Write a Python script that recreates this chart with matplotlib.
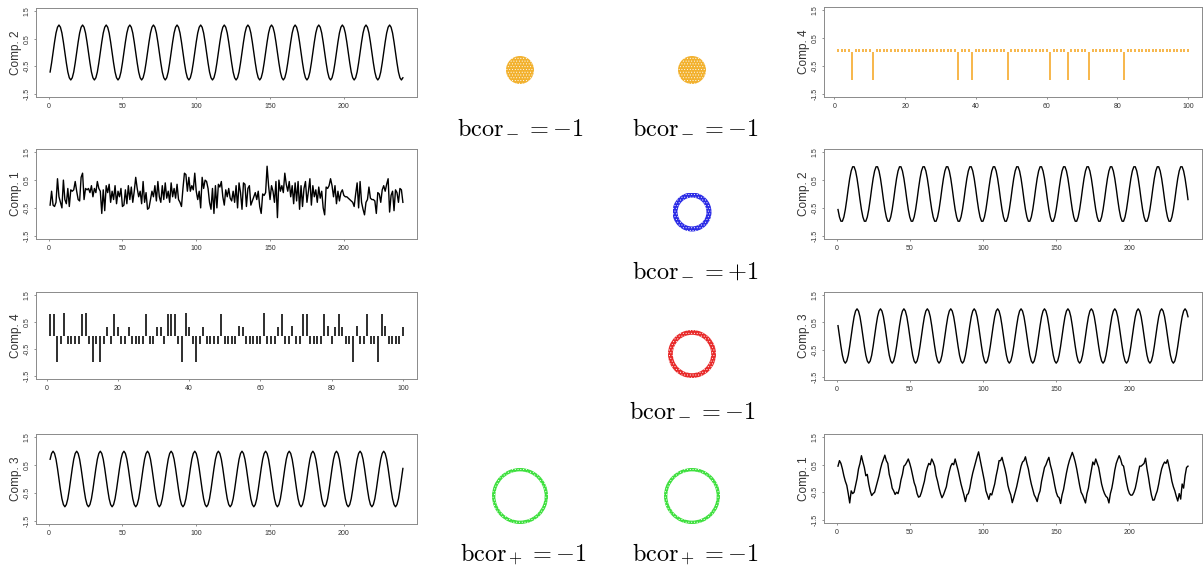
import numpy as np
import matplotlib
matplotlib.use('Agg')
import matplotlib.pyplot as plt
from matplotlib.patches import Circle, Wedge

plt.rcParams['font.family'] = ['Liberation Sans', 'DejaVu Sans']
plt.rcParams['mathtext.fontset'] = 'cm'
plt.rcParams['hatch.linewidth'] = 0.35

# ---- data ----
left_comp2 = [
    -.71, -.38, 0, .38, .71, .92, 1, .92, .71, .38, 0, -.38, -.71, -.92, -1, -.92,
    -.71, -.38, 0, .38, .71, .92, 1, .92, .71, .38, 0, -.38, -.71, -.92, -1, -.92,
    -.71, -.38, 0, .38, .71, .92, 1, .92, .71, .38, 0, -.38, -.71, -.92, -1, -.92,
    -.71, -.38, 0, .38, .71, .92, 1, .92, .71, .38, 0, -.38, -.71, -.92, -1, -.92,
    -.71, -.38, 0, .38, .71, .92, 1, .92, .71, .38, 0, -.38, -.71, -.92, -1, -.92,
    -.71, -.38, 0, .38, .71, .92, 1, .92, .71, .38, 0, -.38, -.71, -.92, -1, -.92,
    -.71, -.38, 0, .38, .71, .92, 1, .92, .71, .38, 0, -.38, -.71, -.92, -1, -.92,
    -.71, -.38, 0, .38, .71, .92, 1, .92, .71, .38, 0, -.38, -.71, -.92, -1, -.92,
    -.71, -.38, 0, .38, .71, .92, 1, .92, .71, .38, 0, -.38, -.71, -.92, -1, -.92,
    -.71, -.38, 0, .38, .71, .92, 1, .92, .71, .38, 0, -.38, -.71, -.92, -1, -.92,
    -.71, -.38, 0, .38, .71, .92, 1, .92, .71, .38, 0, -.38, -.71, -.92, -1, -.92,
    -.71, -.38, 0, .38, .71, .92, 1, .92, .71, .38, 0, -.38, -.71, -.92, -1, -.92,
    -.71, -.38, 0, .38, .71, .92, 1, .92, .71, .38, 0, -.38, -.71, -.92, -1, -.92,
    -.71, -.38, 0, .38, .71, .92, 1, .92, .71, .38, 0, -.38, -.71, -.92, -1, -.92,
    -.71, -.38, 0, .38, .71, .92, 1, .92, .71, .38, 0, -.38, -.71, -.92, -1, -.92,
]

left_comp1 = [
    -.4, .1, -.4, -.45, -.3, .55, -.1, -.3, -.5, .5, -.2, -.35, .2, -.45, .15, .1, .15, .45, .1, -.2,
    -.25, .6, .75, -.2, .2, .15, .2, .05, .3, -.1, .2, .05, .45, .2, .1, -.7, .15, -.6, .3, .05,
    .35, -.3, .1, -.2, .3, -.35, .1, -.1, .2, -.45, -.4, .15, -.35, .3, -.2, .25, -.3, .1, .6, .2,
    -.1, .1, -.35, .45, -.3, .05, -.55, -.5, -.2, .1, -.1, .3, -.25, .45, -.1, -.3, .3, -.2, .4, -.15,
    .1, -.3, .4, -.1, .2, -.15, .35, -.2, -.3, -.45, .2, .75, .7, .1, .6, .1, .3, .15, .75, .1,
    -.2, .1, -.5, .6, .2, .5, .45, .2, -.3, -.55, .2, -.7, .3, -.5, .35, .25, .45, -.1, -.4, .15,
    -.1, .2, -.15, -.25, .1, -.3, .3, -.5, .4, .05, -.55, .4, .35, -.45, .2, .3, -.4, -.25, -.1, .05,
    -.2, .1, -.45, -.7, 0, -.05, .05, 1.0, .3, -.2, .3, .1, -.3, .45, -.85, .5, .1, .3, .05, .75,
    .35, .1, .45, -.1, .3, -.35, .4, -.25, .45, -.55, .3, -.45, .2, .45, -.3, .1, .55, -.4, .3, -.1,
    .15, -.3, .25, -.15, .1, -.5, -.75, .25, .2, .3, .55, .3, -.1, .3, -.35, .1, -.25, .05, .15, -.05,
    -.1, -.1, -.15, -.2, -.25, -.3, -.45, 0, .4, -.5, .45, -.3, -.55, -.75, -.3, -.2, .25, -.15, -.2, -.2,
    -.25, -.7, .05, 0, -.3, .15, .3, .1, .35, .55, -.65, -.05, .1, -.6, .15, .05, -.3, .2, .15, -.3,
]

left_comp4 = [
    .8, .8, -1, -.3, .85, -.3, -.3, -.3, -.3, .8,
    .85, -.3, -1, -.3, -1, -.3, .3, -.3, .8, .3,
    -.3, -.3, .3, -.3, -.3, -.3, -.3, .8, -.3, -.3,
    .3, .3, -.3, .8, .8, .8, -.3, -1, .85, .3,
    -.3, -1, -.3, .3, -.3, -.3, -.3, -.3, .8, -.3,
    -.3, -.3, -.3, .35, .3, -.3, -.3, -.3, -.3, -.3,
    .85, -.3, -.3, -.3, .3, .8, -.3, -.3, .35, -.3,
    -.3, .8, .8, -.3, -.3, -.3, -.3, .8, .35, -.3,
    .3, .8, .3, -.3, -.3, -1, .35, -.3, -.3, .8,
    -.3, -.3, -1, .8, .35, -.3, -.3, -.3, -.3, .3,
]

left_comp3 = [
    .71, .92, 1, .92, .71, .38, 0, -.38, -.71, -.92, -1, -.92, -.71, -.38, 0, .38,
    .71, .92, 1, .92, .71, .38, 0, -.38, -.71, -.92, -1, -.92, -.71, -.38, 0, .38,
    .71, .92, 1, .92, .71, .38, 0, -.38, -.71, -.92, -1, -.92, -.71, -.38, 0, .38,
    .71, .92, 1, .92, .71, .38, 0, -.38, -.71, -.92, -1, -.92, -.71, -.38, 0, .38,
    .71, .92, 1, .92, .71, .38, 0, -.38, -.71, -.92, -1, -.92, -.71, -.38, 0, .38,
    .71, .92, 1, .92, .71, .38, 0, -.38, -.71, -.92, -1, -.92, -.71, -.38, 0, .38,
    .71, .92, 1, .92, .71, .38, 0, -.38, -.71, -.92, -1, -.92, -.71, -.38, 0, .38,
    .71, .92, 1, .92, .71, .38, 0, -.38, -.71, -.92, -1, -.92, -.71, -.38, 0, .38,
    .71, .92, 1, .92, .71, .38, 0, -.38, -.71, -.92, -1, -.92, -.71, -.38, 0, .38,
    .71, .92, 1, .92, .71, .38, 0, -.38, -.71, -.92, -1, -.92, -.71, -.38, 0, .38,
    .71, .92, 1, .92, .71, .38, 0, -.38, -.71, -.92, -1, -.92, -.71, -.38, 0, .38,
    .71, .92, 1, .92, .71, .38, 0, -.38, -.71, -.92, -1, -.92, -.71, -.38, 0, .38,
    .71, .92, 1, .92, .71, .38, 0, -.38, -.71, -.92, -1, -.92, -.71, -.38, 0, .38,
    .71, .92, 1, .92, .71, .38, 0, -.38, -.71, -.92, -1, -.92, -.71, -.38, 0, .38,
    .71, .92, 1, .92, .71, .38, 0, -.38, -.71, -.92, -1, -.92, -.71, -.38, 0, .38,
]

right_comp4 = [
    .1, .1, .1, .1, -1, .1, .1, .1, .1, .1,
    -1, .1, .1, .1, .1, .1, .1, .1, .1, .1,
    .1, .1, .1, .1, .1, .1, .1, .1, .1, .1,
    .1, .1, .1, .1, -1, .1, .1, .1, -1, .1,
    .1, .1, .1, .1, .1, .1, .1, .1, -1, .1,
    .1, .1, .1, .1, .1, .1, .1, .1, .1, .1,
    -1, .1, .1, .1, .1, -1, .1, .1, .1, .1,
    .1, -1, .1, .1, .1, .1, .1, .1, .1, .1,
    .1, -1, .1, .1, .1, .1, .1, .1, .1, .1,
    .1, .1, .1, .1, .1, .1, .1, .1, .1, .1,
]

right_comp2 = [
    -.56, -.83, -.98, -.98, -.83, -.56, -.2, .2, .56, .83, .98, .98, .83, .56, .2, -.2,
    -.56, -.83, -.98, -.98, -.83, -.56, -.2, .2, .56, .83, .98, .98, .83, .56, .2, -.2,
    -.56, -.83, -.98, -.98, -.83, -.56, -.2, .2, .56, .83, .98, .98, .83, .56, .2, -.2,
    -.56, -.83, -.98, -.98, -.83, -.56, -.2, .2, .56, .83, .98, .98, .83, .56, .2, -.2,
    -.56, -.83, -.98, -.98, -.83, -.56, -.2, .2, .56, .83, .98, .98, .83, .56, .2, -.2,
    -.56, -.83, -.98, -.98, -.83, -.56, -.2, .2, .56, .83, .98, .98, .83, .56, .2, -.2,
    -.56, -.83, -.98, -.98, -.83, -.56, -.2, .2, .56, .83, .98, .98, .83, .56, .2, -.2,
    -.56, -.83, -.98, -.98, -.83, -.56, -.2, .2, .56, .83, .98, .98, .83, .56, .2, -.2,
    -.56, -.83, -.98, -.98, -.83, -.56, -.2, .2, .56, .83, .98, .98, .83, .56, .2, -.2,
    -.56, -.83, -.98, -.98, -.83, -.56, -.2, .2, .56, .83, .98, .98, .83, .56, .2, -.2,
    -.56, -.83, -.98, -.98, -.83, -.56, -.2, .2, .56, .83, .98, .98, .83, .56, .2, -.2,
    -.56, -.83, -.98, -.98, -.83, -.56, -.2, .2, .56, .83, .98, .98, .83, .56, .2, -.2,
    -.56, -.83, -.98, -.98, -.83, -.56, -.2, .2, .56, .83, .98, .98, .83, .56, .2, -.2,
    -.56, -.83, -.98, -.98, -.83, -.56, -.2, .2, .56, .83, .98, .98, .83, .56, .2, -.2,
    -.56, -.83, -.98, -.98, -.83, -.56, -.2, .2, .56, .83, .98, .98, .83, .56, .2, -.2,
]

right_comp3 = [
    .38, 0, -.38, -.71, -.92, -1, -.92, -.71, -.38, 0, .38, .71, .92, 1, .92, .71,
    .38, 0, -.38, -.71, -.92, -1, -.92, -.71, -.38, 0, .38, .71, .92, 1, .92, .71,
    .38, 0, -.38, -.71, -.92, -1, -.92, -.71, -.38, 0, .38, .71, .92, 1, .92, .71,
    .38, 0, -.38, -.71, -.92, -1, -.92, -.71, -.38, 0, .38, .71, .92, 1, .92, .71,
    .38, 0, -.38, -.71, -.92, -1, -.92, -.71, -.38, 0, .38, .71, .92, 1, .92, .71,
    .38, 0, -.38, -.71, -.92, -1, -.92, -.71, -.38, 0, .38, .71, .92, 1, .92, .71,
    .38, 0, -.38, -.71, -.92, -1, -.92, -.71, -.38, 0, .38, .71, .92, 1, .92, .71,
    .38, 0, -.38, -.71, -.92, -1, -.92, -.71, -.38, 0, .38, .71, .92, 1, .92, .71,
    .38, 0, -.38, -.71, -.92, -1, -.92, -.71, -.38, 0, .38, .71, .92, 1, .92, .71,
    .38, 0, -.38, -.71, -.92, -1, -.92, -.71, -.38, 0, .38, .71, .92, 1, .92, .71,
    .38, 0, -.38, -.71, -.92, -1, -.92, -.71, -.38, 0, .38, .71, .92, 1, .92, .71,
    .38, 0, -.38, -.71, -.92, -1, -.92, -.71, -.38, 0, .38, .71, .92, 1, .92, .71,
    .38, 0, -.38, -.71, -.92, -1, -.92, -.71, -.38, 0, .38, .71, .92, 1, .92, .71,
    .38, 0, -.38, -.71, -.92, -1, -.92, -.71, -.38, 0, .38, .71, .92, 1, .92, .71,
    .38, 0, -.38, -.71, -.92, -1, -.92, -.71, -.38, 0, .38, .71, .92, 1, .92, .71,
]

right_comp1 = [
    .45, .65, .55, .35, .1, -.1, -.25, -.55, -.89, -.45, -.55, -.5, -.25, 0, .35, .55,
    .83, .6, .4, .1, .15, -.2, -.45, -.62, -.55, -.5, -.3, -.1, .1, .35, .55, .7,
    .85, .65, .55, .15, -.05, -.35, -.45, -.58, -.5, -.55, -.35, -.05, .15, .45, .5, .6,
    .71, .55, .35, .1, -.15, -.3, -.55, -.68, -.65, -.5, -.3, -.1, .2, .4, .55, .5,
    .71, .6, .45, .1, -.1, -.35, -.55, -.7, -.6, -.45, -.3, 0, .25, .45, .55, .5,
    .71, .5, .3, .05, -.2, -.4, -.6, -.84, -.6, -.55, -.35, -.05, .2, .4, .6, .8,
    .97, .7, .45, .15, -.1, -.45, -.6, -.76, -.55, -.6, -.4, -.2, .1, .35, .65, .65,
    .77, .55, .35, .1, -.25, -.45, -.6, -.88, -.7, -.5, -.3, -.05, .2, .45, .6, .65,
    .79, .55, .35, .05, -.2, -.4, -.6, -.7, -.84, -.6, -.45, -.1, .15, .4, .5, .65,
    .77, .5, .3, .05, -.25, -.5, -.65, -.7, -.91, -.6, -.4, -.1, .2, .45, .65, .8,
    .95, .8, .6, .35, .05, -.25, -.5, -.6, -.75, -.89, -.55, -.35, 0, .3, .6, .5,
    .71, .55, .4, .1, -.2, -.4, -.55, -.65, -.7, -.89, -.55, -.35, -.05, .3, .55, .7,
    .83, .7, .5, .45, .15, -.15, -.4, -.55, -.61, -.6, -.5, -.35, -.1, .2, .45, .45,
    .5, .55, .74, .35, .05, -.3, -.6, -.79, -.78, -.6, -.45, -.2, .1, .35, .5, .6,
    .55, .68, .45, .2, -.1, -.3, -.45, -.65, -.82, -.55, -.75, -.2, -.35, .1, .4, .45,
]

# point clouds in the middle: filled disc (inner 0) or ring (inner radius / outer)
cloud_inner = [0, 0, 0.74, 0.80, 0.88, 0.88]
cloud_colors = ['#F2B12E', '#F2B12E', '#2B2BE6', '#E82A2A', '#3EE03E', '#3EE03E']
cloud_sub = ['-', '-', '-', '-', '+', '+']
cloud_rhs = ['-1', '-1', '+1', '-1', '-1', '-1']

# ---- layout (pixels) ----
W, H = 1203, 568
fig = plt.figure(figsize=(W / 100, H / 100), dpi=100)
renderer = fig.canvas.get_renderer()

def px_axes(x0, y0, x1, y1):
    return fig.add_axes([x0 / W, 1 - y1 / H, (x1 - x0) / W, (y1 - y0) / H])

def ts_panel(box, values, label, color='black', kind='line'):
    ax = px_axes(*box)
    t = np.arange(1, len(values) + 1)
    if kind == 'line':
        ax.plot(t, values, color=color, lw=1.0)
    else:
        ax.vlines(t, 0, values, color=color, lw=1.15)
    n = len(values)
    ext = 0.04 * (n - 1)
    ax.set_xlim(1 - ext, n + ext)
    ax.set_ylim(-1.62, 1.62)
    ax.set_yticks([-1.5, -0.5, 0.5, 1.5])
    ax.set_yticklabels(['-1.5', '-0.5', '0.5', '1.5'], rotation=90, va='center')
    xt = [0, 50, 100, 150, 200] if n > 100 else [0, 20, 40, 60, 80, 100]
    ax.set_xticks(xt)
    ax.tick_params(labelsize=5, length=1.5, width=0.5, pad=2.5,
                   colors='#666666', labelcolor='#333333')
    for s in ax.spines.values():
        s.set_color('#8a8a8a')
        s.set_linewidth(0.7)
    ax.set_ylabel(label, fontsize=8.5, color='#333333')
    ax.yaxis.set_label_coords(-0.036, 0.5)
    return ax

left_boxes = [(36, 8, 417, 97), (36, 149, 417, 239), (36, 292, 417, 379), (36, 434, 417, 524)]
right_boxes = [(824, 7, 1202, 97), (824, 149, 1202, 239), (824, 292, 1202, 380), (824, 434, 1202, 523)]

ts_panel(left_boxes[0], left_comp2, 'Comp. 2')
ts_panel(left_boxes[1], left_comp1, 'Comp. 1')
ts_panel(left_boxes[2], left_comp4, 'Comp. 4', kind='bars')
ts_panel(left_boxes[3], left_comp3, 'Comp. 3')

ts_panel(right_boxes[0], right_comp4, 'Comp. 4', color='#F5A623', kind='bars')
ts_panel(right_boxes[1], right_comp2, 'Comp. 2')
ts_panel(right_boxes[2], right_comp3, 'Comp. 3')
ts_panel(right_boxes[3], right_comp1, 'Comp. 1')

FS = 17.5

def bcor_label(xc, yb, sub, rhs):
    # built from three pieces: mathtext clips a lone subscript minus
    pieces = [(r'$\mathrm{bcor}$', FS, 0.0, 0.0),
              ('$' + sub + '$', FS * 0.7, 1.5, 1.0),
              ('$=' + rhs + '$', FS, 0.0, 6.0)]
    texts, widths = [], []
    for s, size, dy, gap in pieces:
        t = fig.text(0, 0, s, fontsize=size, va='baseline', ha='left')
        texts.append(t)
        widths.append(t.get_window_extent(renderer).width)
    total = sum(widths) + sum(p[3] for p in pieces)
    x = xc - total / 2
    for t, w, (s, size, dy, gap) in zip(texts, widths, pieces):
        x += gap
        t.set_position((x / W, 1 - (yb + dy) / H))
        x += w

# cloud placement: centre x, centre y, outer radius (px), label centre x, baseline y
cloud_pos = [(520, 70, 14, 520, 136), (692, 70, 14, 695, 136),
             (692, 212, 19.5, 695, 279), (692, 354, 24, 692, 419),
             (520, 496, 28, 523, 561), (692, 496, 28, 695, 561)]

for (cx, cy, r, lx, ly), inner, col, sub, rhs in zip(cloud_pos, cloud_inner, cloud_colors,
                                                      cloud_sub, cloud_rhs):
    ax = px_axes(cx - r, cy - r, cx + r, cy + r)
    ax.set_xlim(-1, 1)
    ax.set_ylim(-1, 1)
    ax.set_aspect('equal')
    ax.axis('off')
    if inner == 0:
        p = Circle((0, 0), 1, facecolor=col, edgecolor='white', lw=0, hatch='......')
    else:
        p = Wedge((0, 0), 1, 0, 360, width=1 - inner, facecolor=col,
                  edgecolor='white', lw=0, hatch='......')
    ax.add_patch(p)
    bcor_label(lx, ly, sub, rhs)

fig.savefig('out.png', dpi=100)
